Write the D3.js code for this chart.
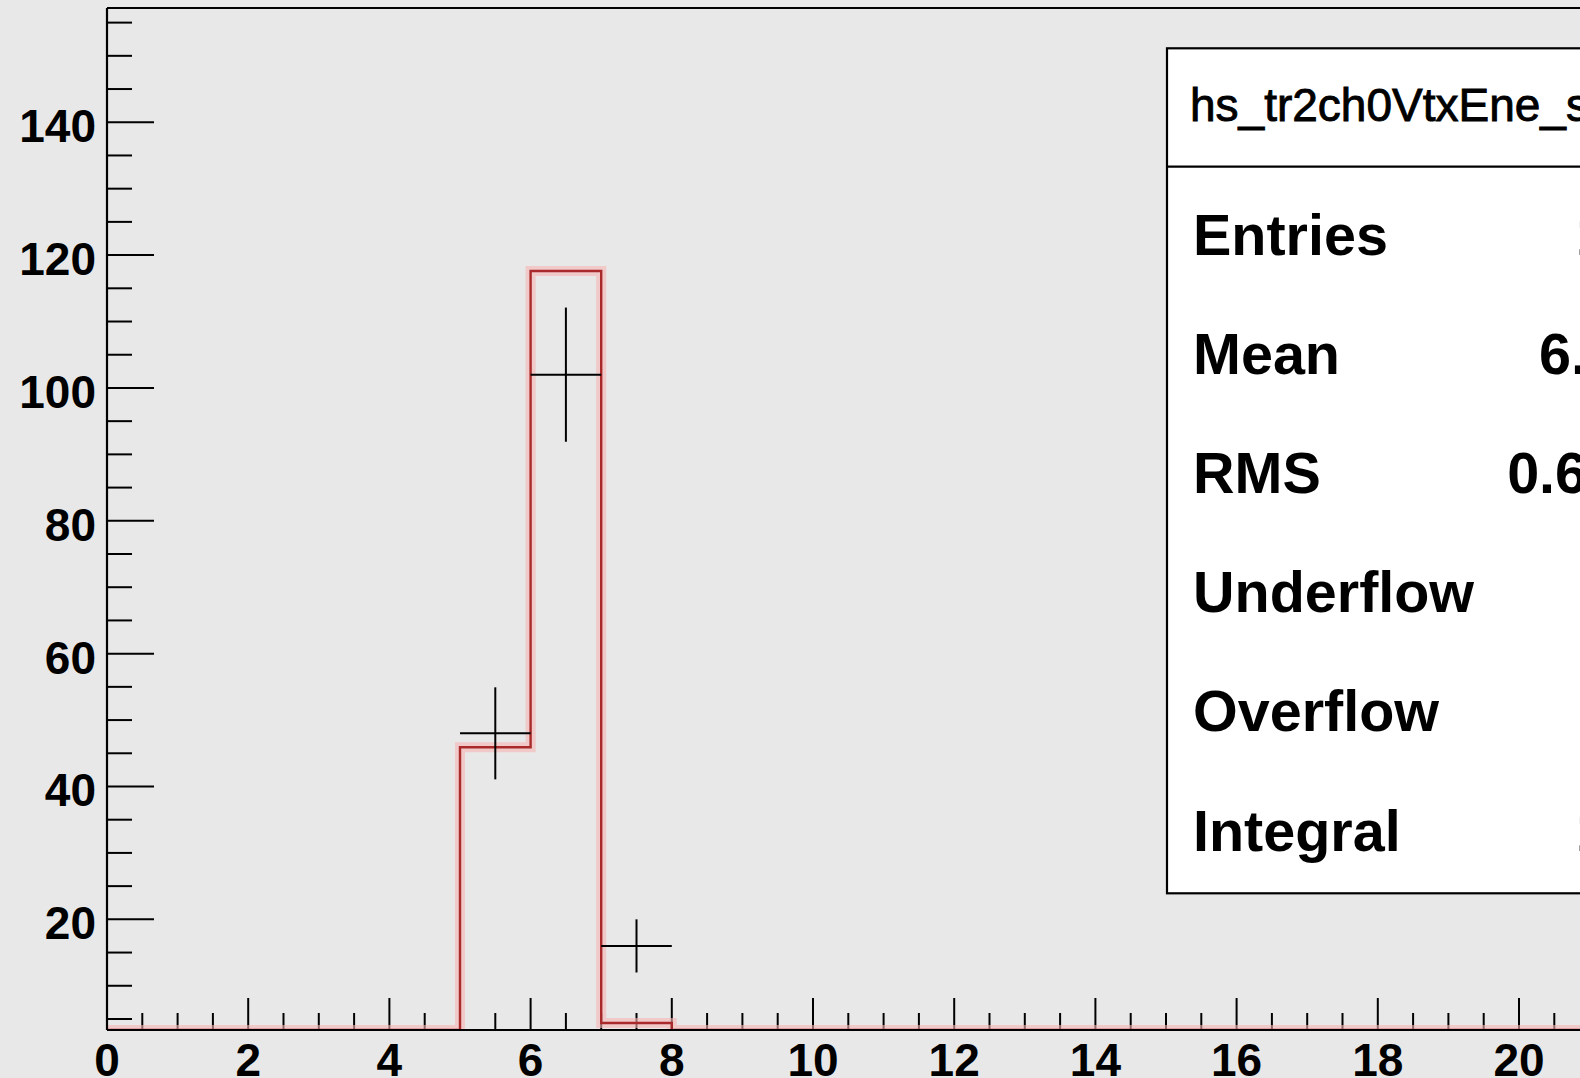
<!DOCTYPE html>
<html>
<head>
<meta charset="utf-8">
<script src="https://cdn.jsdelivr.net/npm/d3@7"></script>
<style>
  html, body { margin: 0; padding: 0; background: #e8e8e8; overflow: hidden; }
  svg { display: block; }
  text { font-family: "Liberation Sans", Arial, Helvetica, sans-serif; fill: #000; }
</style>
</head>
<body>
<svg id="chart" width="1580" height="1078"></svg>
<script>
// Vertex energy histogram: unit-width bins starting at 0
const binLowEdges = [0, 1, 2, 3, 4, 5, 6, 7, 8, 9, 10, 11, 12, 13, 14, 15, 16, 17, 18, 19, 20, 21, 22, 23, 24];
// simulated spectrum (red outline)
const simCounts   = [0, 0, 0, 0, 0, 45.9, 117.6, 4.4, 0, 0, 0, 0, 0, 0, 0, 0, 0, 0, 0, 0, 0, 0, 0, 0, 0];
// measured spectrum (black crosses, Poisson errors)
const dataCounts  = [0, 0, 0, 0, 0, 48, 102, 16, 0, 0, 0, 0, 0, 0, 0, 0, 0, 0, 0, 0, 0, 0, 0, 0, 0];

const yMajorTicks = [20, 40, 60, 80, 100, 120, 140];
const xMajorTicks = [0, 2, 4, 6, 8, 10, 12, 14, 16, 18, 20, 22, 24];

const statsTitle  = "hs_tr2ch0VtxEne_sig";
const statsNames  = ["Entries", "Mean", "RMS", "Underflow", "Overflow", "Integral"];
const statsValues = ["166", "6.334", "0.6227", "0", "0", "166"];

const svg = d3.select("#chart");
const W = 1580, H = 1078;

// frame geometry
const frame = { left: 107, top: 8, bottom: 1030, unitPx: 70.6 };
const xMin = 0, xMax = 25;
const yMin = 3.34, yMax = 157.2;

const x = d3.scaleLinear().domain([xMin, xMax]).range([frame.left, frame.left + (xMax - xMin) * frame.unitPx]);
const y = d3.scaleLinear().domain([yMin, yMax]).range([frame.bottom, frame.top]);

svg.append("rect").attr("width", W).attr("height", H).attr("fill", "#e8e8e8");

svg.append("defs").append("clipPath").attr("id", "frameClip")
  .append("rect")
  .attr("x", x(xMin) - 2).attr("y", y(yMax))
  .attr("width", x(xMax) - x(xMin) + 4).attr("height", y(yMin) - y(yMax) + 1);

// ---- axis ticks ----
const ticks = svg.append("g");
const yMinor = d3.range(5, yMax, 5);
ticks.selectAll(".ytick").data(yMinor).join("line")
  .attr("x1", x(xMin)).attr("x2", d => x(xMin) + (d % 20 === 0 ? 47 : 25))
  .attr("y1", d => y(d)).attr("y2", d => y(d))
  .attr("stroke", "#000").attr("stroke-width", 2);

const xMinor = d3.range(xMin, xMax + 0.001, 0.5);
ticks.selectAll(".xtick").data(xMinor).join("line")
  .attr("x1", d => x(d)).attr("x2", d => x(d))
  .attr("y1", y(yMin)).attr("y2", d => y(yMin) - (d % 2 === 0 ? 32 : 17))
  .attr("stroke", "#000").attr("stroke-width", 2);

// ---- histograms ----
const plot = svg.append("g").attr("clip-path", "url(#frameClip)");

const stepPts = binLowEdges.map((lo, i) => [lo, Math.max(simCounts[i], yMin)]);
stepPts.push([binLowEdges[binLowEdges.length - 1] + 1, Math.max(simCounts[simCounts.length - 1], yMin)]);
const stepLine = d3.line().x(d => x(d[0])).y(d => y(d[1])).curve(d3.curveStepAfter);

plot.append("path").attr("d", stepLine(stepPts))
  .attr("fill", "none").attr("stroke", "#f7b4b4").attr("stroke-width", 10).attr("stroke-opacity", 0.6);

// axis lines
svg.append("line").attr("x1", x(xMin)).attr("x2", W).attr("y1", y(yMin)).attr("y2", y(yMin))
  .attr("stroke", "#000").attr("stroke-width", 2);
svg.append("line").attr("x1", x(xMin)).attr("x2", x(xMin)).attr("y1", y(yMax)).attr("y2", y(yMin))
  .attr("stroke", "#000").attr("stroke-width", 2.2);
svg.append("line").attr("x1", x(xMin)).attr("x2", W).attr("y1", y(yMax)).attr("y2", y(yMax))
  .attr("stroke", "#000").attr("stroke-width", 2.2);

plot.append("path").attr("d", stepLine(stepPts))
  .attr("fill", "none").attr("stroke", "#a82a2a").attr("stroke-width", 2.4);

// data crosses
const pts = binLowEdges.map((lo, i) => ({ lo, c: dataCounts[i] })).filter(d => d.c > 0);
const cross = plot.selectAll(".pt").data(pts).join("g");
cross.append("line")
  .attr("x1", d => x(d.lo)).attr("x2", d => x(d.lo + 1))
  .attr("y1", d => y(d.c)).attr("y2", d => y(d.c))
  .attr("stroke", "#000").attr("stroke-width", 2);
cross.append("line")
  .attr("x1", d => x(d.lo + 0.5)).attr("x2", d => x(d.lo + 0.5))
  .attr("y1", d => y(d.c + Math.sqrt(d.c))).attr("y2", d => y(d.c - Math.sqrt(d.c)))
  .attr("stroke", "#000").attr("stroke-width", 2);

// ---- tick labels ----
svg.selectAll(".ylab").data(yMajorTicks).join("text")
  .attr("x", 96).attr("y", d => y(d) + 20)
  .attr("text-anchor", "end").attr("font-weight", "bold").attr("font-size", 46)
  .text(d => d);

svg.selectAll(".xlab").data(xMajorTicks).join("text")
  .attr("x", d => x(d)).attr("y", 1076)
  .attr("text-anchor", "middle").attr("font-weight", "bold").attr("font-size", 46)
  .text(d => d);

// ---- statistics box ----
const stats = svg.append("g");
const box = { left: 1167, top: 48.3, bottom: 893.3, titleSep: 166.7, right: 1760 };
stats.append("rect")
  .attr("x", box.left).attr("y", box.top)
  .attr("width", box.right - box.left).attr("height", box.bottom - box.top)
  .attr("fill", "#fff").attr("stroke", "#000").attr("stroke-width", 2.2);
stats.append("line")
  .attr("x1", box.left).attr("x2", box.right)
  .attr("y1", box.titleSep).attr("y2", box.titleSep)
  .attr("stroke", "#000").attr("stroke-width", 2.2);
stats.append("text")
  .attr("x", 1190).attr("y", 120.7).attr("font-size", 46)
  .attr("stroke", "#000").attr("stroke-width", 0.9)
  .text(statsTitle);

const rowY = d3.scaleLinear().domain([0, 1]).range([254.5, 373.7]);
stats.selectAll(".sname").data(statsNames).join("text")
  .attr("x", 1193).attr("y", (d, i) => rowY(i))
  .attr("font-size", 57.5).attr("font-weight", "bold")
  .text(d => d);
// integer counts sit in one column, decimal results in a slightly wider one
const valueRight = v => (v.includes(".") ? 1683 : 1672);
stats.selectAll(".sval").data(statsValues).join("text")
  .attr("x", d => valueRight(d)).attr("y", (d, i) => rowY(i))
  .attr("text-anchor", "end")
  .attr("font-size", 57.5).attr("font-weight", "bold")
  .text(d => d);
</script>
</body>
</html>
